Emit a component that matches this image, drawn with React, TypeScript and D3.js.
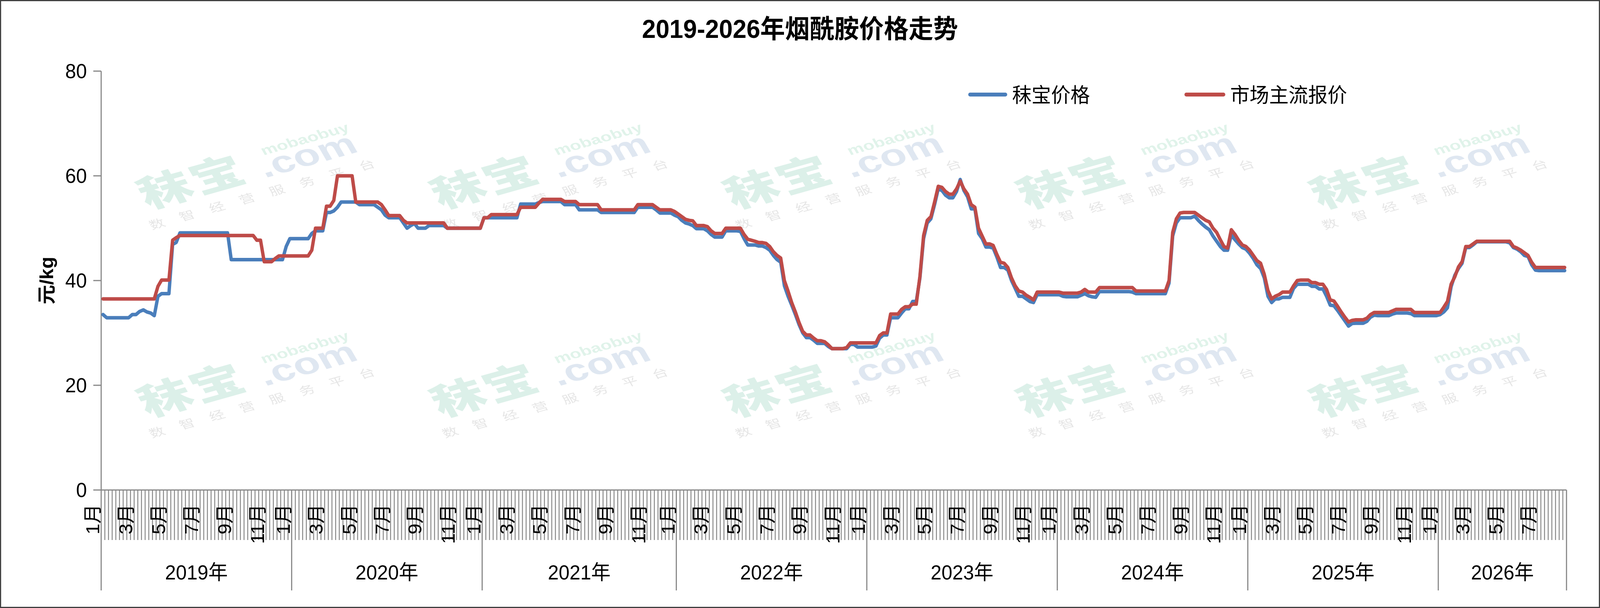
import React from "react";
import * as d3 from "d3";

// ---------- data ----------
const chartTitle = "2019-2026年烟酰胺价格走势";
const yAxisTitle = "元/kg";
const seriesNames = ["秣宝价格", "市场主流报价"];
const yearLabels = ["2019年", "2020年", "2021年", "2022年", "2023年", "2024年", "2025年", "2026年"];
const weeksPerYear = [52, 52, 53, 52, 52, 52, 52, 35];
const monthLabelOffsets = [0, 9, 18, 27, 36, 45];
const monthLabels = ["1月", "3月", "5月", "7月", "9月", "11月"];
const yTickValues = [0, 20, 40, 60, 80];

// 秣宝价格 (weekly)
const mobao2019 = [33.5, 32.9, 32.9, 32.9, 32.9, 32.9, 32.9, 32.9, 33.5, 33.5, 34.1, 34.4, 34.0, 33.8, 33.3, 37.0, 37.5, 37.5, 37.5, 46.9, 47.3,
  49.1, 49.1, 49.1, 49.1, 49.1, 49.1, 49.1, 49.1, 49.1, 49.1, 49.1, 49.1, 49.1, 49.1,
  44.0, 44.0, 44.0, 44.0, 44.0, 44.0, 44.0, 44.0, 44.0, 44.0, 44.0, 44.0, 44.0, 44.0, 44.0, 46.5, 48.0];
const mobao2020 = [48.0, 48.0, 48.0, 48.0, 48.0, 49.0, 49.5, 49.5, 49.5, 53.0, 53.0, 53.3, 54.0, 55.0, 55.0, 55.0, 55.0, 55.0,
  54.5, 54.5, 54.5, 54.5, 54.5, 54.0, 53.5, 52.5, 52.0, 52.0, 52.0, 52.0, 51.0, 50.0, 50.5, 50.9, 50.0, 50.0, 50.0,
  50.5, 50.5, 50.5, 50.5, 50.5, 50.0, 50.0, 50.0, 50.0, 50.0, 50.0, 50.0, 50.0, 50.0, 50.0];
const mobao2021 = [52.0, 52.0, 52.0, 52.0, 52.0, 52.0, 52.0, 52.0, 52.0, 52.0, 54.6, 54.6, 54.6, 54.6, 54.6, 54.9,
  55.1, 55.1, 55.1, 55.1, 55.1, 55.1, 54.5, 54.5, 54.5, 54.5, 53.5, 53.5, 53.5, 53.5, 53.5, 53.5,
  53.0, 53.0, 53.0, 53.0, 53.0, 53.0, 53.0, 53.0, 53.0, 53.0, 54.0, 54.0, 54.0, 54.0, 54.0, 53.5, 52.9, 52.9, 52.9, 52.9, 52.5];
const mobao2022 = [52.2, 51.5, 51.0, 50.8, 50.5, 49.9, 49.9, 49.9, 49.5, 48.8, 48.3, 48.3, 48.3, 49.5, 49.5, 49.5, 49.5, 49.4, 48.0,
  46.8, 46.8, 46.8, 46.6, 46.6, 46.3, 45.8, 44.8, 44.0, 43.5, 39.0, 37.0, 35.3, 33.5, 31.6, 30.0, 29.1, 29.1, 28.6,
  28.0, 28.0, 28.0, 27.4, 27.0, 27.0, 27.0, 27.0, 27.0, 27.8, 27.8, 27.3, 27.3, 27.3];
const mobao2023 = [27.3, 27.3, 27.5, 29.0, 29.6, 29.6, 32.9, 32.9, 32.9, 33.8, 34.6, 34.6, 36.0, 36.0, 40.5, 48.0, 51.0, 51.8,
  54.5, 57.5, 57.2, 56.3, 55.8, 55.8, 57.0, 59.3, 57.2, 56.0, 53.7, 53.7, 49.0, 48.0, 46.4, 46.4, 46.2, 44.5, 42.5, 42.5,
  42.0, 40.0, 38.5, 37.0, 37.0, 36.5, 36.0, 35.8, 37.3, 37.3, 37.3, 37.3, 37.3, 37.3];
const mobao2024 = [37.3, 37.0, 36.9, 36.9, 36.9, 36.9, 37.2, 37.5, 37.1, 36.9, 36.8, 37.9, 37.9, 37.9, 37.9, 37.9, 37.9, 37.9, 37.9, 37.9,
  37.8, 37.5, 37.5, 37.5, 37.5, 37.5, 37.5, 37.5, 37.5, 37.5, 39.5, 48.5, 51.0, 52.0, 52.0, 52.0, 52.0, 52.3, 51.5, 50.8,
  50.2, 49.7, 48.5, 47.5, 46.5, 45.8, 45.8, 48.7, 47.8, 47.0, 46.3, 46.0];
const mobao2025 = [45.2, 44.2, 43.0, 42.3, 40.5, 37.0, 35.8, 36.5, 36.5, 36.8, 36.8, 36.8, 38.5, 39.3, 39.3, 39.3, 39.3, 38.9, 38.9,
  38.4, 38.4, 37.0, 35.3, 35.2, 34.3, 33.3, 32.3, 31.3, 31.8, 31.85, 31.85, 31.85, 32.2, 33.0, 33.4, 33.3, 33.3, 33.3, 33.3,
  33.6, 33.8, 33.8, 33.8, 33.8, 33.7, 33.3, 33.3, 33.3, 33.3, 33.3, 33.3, 33.3];
const mobao2026 = [33.5, 34.0, 34.8, 38.8, 41.0, 42.3, 43.3, 46.3, 46.3, 46.8, 47.4, 47.4, 47.4, 47.4, 47.4, 47.4, 47.4, 47.4, 47.4,
  47.2, 46.3, 46.0, 45.5, 44.8, 44.6, 43.0, 42.0, 41.9, 41.9, 41.9, 41.9, 41.9, 41.9, 41.9, 41.9];

// 市场主流报价 (weekly)
const market2019 = [36.5, 36.5, 36.5, 36.5, 36.5, 36.5, 36.5, 36.5, 36.5, 36.5, 36.5, 36.5, 36.5, 36.5, 36.5, 38.9, 40.1, 40.1, 40.1, 47.7, 48.2,
  48.6, 48.6, 48.6, 48.6, 48.6, 48.6, 48.6, 48.6, 48.6, 48.6, 48.6, 48.6, 48.6, 48.6, 48.6, 48.6, 48.6, 48.6, 48.6, 48.6, 48.6,
  47.7, 47.7, 43.6, 43.6, 43.6, 44.2, 44.7, 44.7, 44.7, 44.7];
const market2020 = [44.7, 44.7, 44.7, 44.7, 44.7, 45.8, 50.0, 50.0, 50.0, 54.2, 54.2, 55.3, 60.0, 60.0, 60.0, 60.0, 60.0,
  55.0, 55.0, 55.0, 55.0, 55.0, 55.0, 55.0, 54.5, 53.5, 52.4, 52.4, 52.4, 52.4, 51.5,
  51.0, 51.0, 51.0, 51.0, 51.0, 51.0, 51.0, 51.0, 51.0, 51.0, 51.0, 50.0, 50.0, 50.0, 50.0, 50.0, 50.0, 50.0, 50.0, 50.0, 50.0];
const market2021 = [52.0, 52.0, 52.6, 52.6, 52.6, 52.6, 52.6, 52.6, 52.6, 52.6, 54.0, 54.0, 54.0, 54.0, 54.0, 54.8,
  55.5, 55.5, 55.5, 55.5, 55.5, 55.5, 55.1, 55.1, 55.1, 55.1, 54.5, 54.5, 54.5, 54.5, 54.5, 54.5,
  53.5, 53.5, 53.5, 53.5, 53.5, 53.5, 53.5, 53.5, 53.5, 53.5, 54.5, 54.5, 54.5, 54.5, 54.5, 54.0, 53.5, 53.5, 53.5, 53.5, 53.2];
const market2022 = [52.7, 52.2, 51.7, 51.5, 51.4, 50.5, 50.5, 50.5, 50.3, 49.5, 49.0, 49.0, 49.0, 50.0, 50.0, 50.0, 50.0, 50.0, 48.8,
  47.9, 47.7, 47.5, 47.25, 47.25, 47.1, 46.5, 45.5, 44.8, 44.3, 40.0, 38.0, 35.8, 34.0, 32.0, 30.3, 29.6, 29.6, 29.0,
  28.5, 28.5, 28.3, 27.7, 27.0, 27.0, 27.0, 27.0, 27.2, 28.1, 28.1, 28.1, 28.1, 28.1];
const market2023 = [28.1, 28.1, 28.1, 29.5, 30.0, 30.0, 33.6, 33.6, 33.6, 34.5, 35.0, 35.0, 35.5, 35.5, 40.8, 48.6, 51.5, 52.2,
  55.0, 58.0, 57.8, 57.0, 56.5, 56.5, 57.5, 59.0, 57.5, 56.5, 54.5, 54.0, 50.0, 48.5, 47.0, 47.0, 46.7, 45.0, 43.5, 43.3,
  42.5, 40.5, 39.0, 38.0, 37.8, 37.2, 36.8, 36.3, 37.8, 37.8, 37.8, 37.8, 37.8, 37.8];
const market2024 = [37.8, 37.6, 37.6, 37.6, 37.6, 37.6, 37.8, 38.3, 37.8, 37.8, 37.8, 38.65, 38.65, 38.65, 38.65, 38.65, 38.65, 38.65, 38.65, 38.65, 38.65,
  38.0, 38.0, 38.0, 38.0, 38.0, 38.0, 38.0, 38.0, 38.0, 40.0, 49.2, 51.8, 52.9, 53.0, 53.0, 53.0, 53.0, 52.5, 52.0,
  51.5, 51.2, 50.0, 49.2, 47.8, 46.5, 46.2, 49.7, 48.8, 47.7, 46.8, 46.5];
const market2025 = [45.8, 44.8, 43.8, 43.3, 41.2, 38.1, 36.5, 37.0, 37.3, 37.8, 37.8, 37.8, 39.0, 40.0, 40.1, 40.1, 40.1, 39.6, 39.6,
  39.3, 39.3, 38.3, 36.3, 36.1, 35.1, 34.0, 33.0, 32.1, 32.4, 32.5, 32.5, 32.5, 32.8, 33.5, 33.9, 33.9, 33.9, 33.9, 33.9,
  34.2, 34.5, 34.5, 34.5, 34.5, 34.5, 33.9, 33.9, 33.9, 33.9, 33.9, 33.9, 33.9];
const market2026 = [33.9, 34.9, 36.0, 39.3, 40.7, 42.6, 43.6, 46.5, 46.5, 47.0, 47.5, 47.5, 47.5, 47.5, 47.5, 47.5, 47.5, 47.5, 47.5, 47.5,
  46.5, 46.2, 45.8, 45.3, 44.8, 43.5, 42.5, 42.5, 42.5, 42.5, 42.5, 42.5, 42.5, 42.5, 42.5];

const mobaoPrice = [...mobao2019, ...mobao2020, ...mobao2021, ...mobao2022, ...mobao2023, ...mobao2024, ...mobao2025, ...mobao2026];
const marketPrice = [...market2019, ...market2020, ...market2021, ...market2022, ...market2023, ...market2024, ...market2025, ...market2026];

// watermark text pieces
const wmLogo = "秣宝";
const wmCom = ".com";
const wmEn = "mobaobuy";
const wmSlogan = ["数", "智", "经", "营", "服", "务", "平", "台"];

// ---------- component ----------
const FONT = "'Liberation Sans', Arial, 'Noto Sans CJK SC', sans-serif";
const BLUE = "#4A7EBB";
const RED = "#BE4B48";
const AXIS = "#868686";

export default function App() {
  const W = 4270;
  const H = 1556;
  const left = 270;
  const right = 4180.6;
  const top = 182;
  const bottom = 1254;
  const N = mobaoPrice.length;

  const x = d3.scaleBand<number>().domain(d3.range(N)).range([left, right]).paddingInner(0).paddingOuter(0);
  const bw = x.bandwidth();
  const y = d3.scaleLinear().domain([0, 80]).range([bottom, top]);
  const cx = (i: number) => (x(i) as number) + bw / 2;

  const line = d3
    .line<number>()
    .x((_, i) => cx(i))
    .y((d) => y(d));

  const yearStarts: number[] = [];
  let acc = 0;
  weeksPerYear.forEach((w) => {
    yearStarts.push(acc);
    acc += w;
  });
  const boundaryX = (i: number) => (i >= N ? right : (x(i) as number));
  const yearBoundarySet = new Set<number>([...yearStarts, N]);

  const tickLen = 128;
  const yearLineBottom = 1511;

  // watermark grid
  const wmAnchors: [number, number][] = [];
  for (let r = 0; r < 2; r++) {
    for (let k = 0; k < 5; k++) {
      wmAnchors.push([513 + 782.5 * k, 466 + 533 * r]);
    }
  }

  return (
    <svg
      viewBox={`0 0 ${W} ${H}`}
      preserveAspectRatio="none"
      style={{ position: "fixed", left: 0, top: 0, width: "100%", height: "100%", display: "block" }}
      fontFamily={FONT}
    >
      <rect x={1.5} y={1.5} width={W - 3} height={H - 3} fill="#ffffff" stroke="#404040" strokeWidth={3} />

      {/* watermark */}
      <g>
        {wmAnchors.map(([ax, ay], idx) => (
          <g key={idx} transform={`translate(${ax},${ay}) scale(1.5,1) rotate(-22)`}>
            <text x={0} y={34} textAnchor="middle" fontSize={95} fontWeight={900} fill="#dcf0e9" letterSpacing={4}
              fontFamily="'Noto Sans CJK SC', sans-serif">
              {wmLogo}
            </text>
            <text x={215} y={39} textAnchor="middle" fontSize={78} fontWeight={700} fill="#dfe7f1">
              {wmCom}
            </text>
            <text x={227} y={-16} textAnchor="middle" fontSize={33} fontWeight={700} fill="#e0f3ea">
              {wmEn}
            </text>
            {wmSlogan.map((c, j) => (
              <text key={j} x={103 + (j - 3.5) * 57.5} y={86} textAnchor="middle" fontSize={28} fill="#e6e6e6"
                fontFamily="'Noto Sans CJK SC', sans-serif">
                {c}
              </text>
            ))}
          </g>
        ))}
      </g>

      {/* title */}
      <text x={W / 2} y={97} textAnchor="middle" fontSize={66} fontWeight={700} fill="#000">
        {chartTitle}
      </text>

      {/* y axis */}
      <line x1={left} x2={left} y1={top} y2={bottom} stroke={AXIS} strokeWidth={3} />
      {yTickValues.map((v) => (
        <g key={v}>
          <line x1={left - 21} x2={left} y1={y(v)} y2={y(v)} stroke={AXIS} strokeWidth={3} />
          <text x={232} y={y(v) + 18.5} textAnchor="end" fontSize={52} fill="#000">
            {v}
          </text>
        </g>
      ))}
      <text transform={`translate(142,${(top + bottom) / 2}) rotate(-90)`} textAnchor="middle" fontSize={50}
        fontWeight={700} fill="#000">
        {yAxisTitle}
      </text>

      {/* x axis ticks */}
      {d3.range(N + 1).map((i) => {
        const bx = boundaryX(i);
        const isYear = yearBoundarySet.has(i);
        return (
          <line key={i} x1={bx} x2={bx} y1={bottom} y2={isYear ? yearLineBottom : bottom + tickLen}
            stroke={AXIS} strokeWidth={isYear ? 3 : 2.5} />
        );
      })}
      <line x1={left} x2={right} y1={bottom} y2={bottom} stroke={AXIS} strokeWidth={3} />

      {/* month labels */}
      {yearStarts.map((s, yi) =>
        monthLabelOffsets
          .filter((o) => o < weeksPerYear[yi])
          .map((o, mi) => {
            const lx = (x(s + o) as number) - 5;
            return (
              <text key={`${yi}-${mi}`} transform={`translate(${lx},1290) rotate(-90)`} textAnchor="end"
                fontSize={50} fill="#000">
                {monthLabels[mi]}
              </text>
            );
          })
      )}

      {/* year labels */}
      {yearStarts.map((s, yi) => {
        const x0 = boundaryX(s);
        const x1 = boundaryX(s + weeksPerYear[yi]);
        return (
          <text key={yi} x={(x0 + x1) / 2} y={1483} textAnchor="middle" fontSize={52} fill="#000">
            {yearLabels[yi]}
          </text>
        );
      })}

      {/* series */}
      <path d={line(mobaoPrice) || ""} fill="none" stroke={BLUE} strokeWidth={9} strokeLinejoin="round"
        strokeLinecap="round" />
      <path d={line(marketPrice) || ""} fill="none" stroke={RED} strokeWidth={9} strokeLinejoin="round"
        strokeLinecap="round" />

      {/* legend */}
      <line x1={2589} x2={2683} y1={242} y2={242} stroke={BLUE} strokeWidth={10} strokeLinecap="round" />
      <text x={2701} y={262} fontSize={52} fill="#000">
        {seriesNames[0]}
      </text>
      <line x1={3166} x2={3265} y1={242} y2={242} stroke={RED} strokeWidth={10} strokeLinecap="round" />
      <text x={3283} y={262} fontSize={52} fill="#000">
        {seriesNames[1]}
      </text>
    </svg>
  );
}
